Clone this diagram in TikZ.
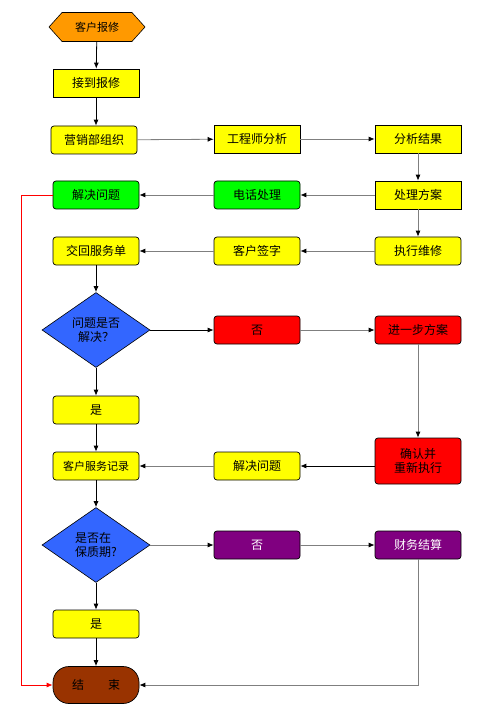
\documentclass[tikz,border=0pt]{standalone}
\usepackage{fontspec}
\newfontfamily\cjk{Noto Sans CJK SC}
\usetikzlibrary{arrows.meta,
  shapes.geometric,
  shapes.symbols,
  shapes.misc
}
\definecolor{boxyellow}{HTML}{FFFF00}
\definecolor{boxgreen}{HTML}{00FF00}
\definecolor{boxred}{HTML}{FF0000}
\definecolor{boxblue}{HTML}{3366FF}
\definecolor{boxpurple}{HTML}{800080}
\definecolor{boxorange}{HTML}{FF9900}
\definecolor{boxbrown}{HTML}{993300}
\definecolor{linegray}{HTML}{7F7F7F}

\tikzset{
  box/.style={draw, line width=0.7pt, minimum width=86pt, minimum height=28pt,
    inner sep=1pt, font=\cjk\fontsize{12}{14}\selectfont, fill=boxyellow},
  rbox/.style={box, rounded corners=3pt},
  decide/.style={diamond, draw, line width=0.6pt, fill=boxblue, inner sep=0pt,
    minimum width=108pt, minimum height=75pt, font=\cjk\fontsize{12}{14}\selectfont},
  flow/.style={-{Latex[length=6pt,width=5pt,black]}, line width=0.8pt},
  grayflow/.style={flow, draw=linegray}
}

\begin{document}
\begin{tikzpicture}[x=1pt, y=-1pt]
  \useasboundingbox (0,0) rectangle (479,708);

  % left column
  \node[signal, signal to=west and east, signal pointer angle=96, draw,
    line width=0.6pt, fill=boxorange, minimum width=96pt, minimum height=29pt,
    inner sep=0pt, font=\cjk\fontsize{11}{13}\selectfont]
    (report) at (97, 27) {客户报修};
  \node[box] (receive) at (96, 83) {接到报修};
  \node[rbox] (sales) at (94, 140) {营销部组织};
  \node[rbox, fill=boxgreen] (solved) at (96, 195) {解决问题};
  \node[rbox] (returnform) at (96, 251) {交回服务单};
  \node[decide, align=center] (askok) at (96, 330) {问题是否\\解决？};
  \node[rbox] (yesone) at (96, 410) {是};
  \node[rbox, font=\cjk\fontsize{11}{13}\selectfont] (record) at (96, 466) {客户服务记录};
  \node[decide, align=left] (askwarranty) at (96, 545) {是否在\\保质期?};
  \node[rbox] (yestwo) at (96, 624) {是};
  \node[box, rounded corners=16pt, fill=boxbrown, minimum height=37pt]
    (finish) at (96, 685) {结　　束};

  % middle column
  \node[box] (engineer) at (257, 139) {工程师分析};
  \node[rbox, fill=boxgreen] (phone) at (257, 195) {电话处理};
  \node[rbox] (sign) at (257, 251) {客户签字};
  \node[rbox, fill=boxred] (noone) at (257, 330) {否};
  \node[rbox] (fixed) at (257, 466) {解决问题};
  \node[rbox, fill=boxpurple, text=white] (notwo) at (257, 545) {否};

  % right column
  \node[box] (result) at (418, 139) {分析结果};
  \node[box] (plan) at (418, 195) {处理方案};
  \node[rbox] (repair) at (418, 251) {执行维修};
  \node[rbox, fill=boxred] (nextplan) at (418, 330) {进一步方案};
  \node[rbox, fill=boxred, minimum height=46pt, align=center]
    (redo) at (418, 461) {确认并\\重新执行};
  \node[rbox, fill=boxpurple, text=white] (billing) at (418, 545) {财务结算};

  % connectors
  \draw[flow] (report) -- (receive);
  \draw[flow] (receive) -- (receive |- sales.north);
  \draw[grayflow] (sales) -- (engineer);
  \draw[grayflow] (engineer) -- (result);
  \draw[grayflow] (result) -- (plan);
  \draw[grayflow] (plan) -- (phone);
  \draw[grayflow] (phone) -- (solved);
  \draw[grayflow] (plan) -- (repair);
  \draw[grayflow] (repair) -- (sign);
  \draw[grayflow] (sign) -- (returnform);
  \draw[flow] (returnform) -- (askok);
  \draw[flow] (askok) -- (noone);
  \draw[grayflow] (noone) -- (nextplan);
  \draw[grayflow] (nextplan) -- (redo);
  \draw[flow] (redo.west |- fixed) -- (fixed);
  \draw[grayflow] (fixed) -- (record);
  \draw[flow] (askok) -- (yesone);
  \draw[flow] (yesone) -- (record);
  \draw[flow] (record) -- (askwarranty);
  \draw[grayflow] (askwarranty) -- (notwo);
  \draw[grayflow] (notwo) -- (billing);
  \draw[flow] (askwarranty) -- (yestwo);
  \draw[flow] (yestwo) -- (finish);
  \draw[grayflow] (billing) |- (finish);

  % red bypass
  \coordinate (bypass) at (21, 195);
  \draw[-{Latex[length=6pt,width=5pt]}, line width=0.8pt, red]
    (solved) -- (bypass) |- (finish);
\end{tikzpicture}
\end{document}
